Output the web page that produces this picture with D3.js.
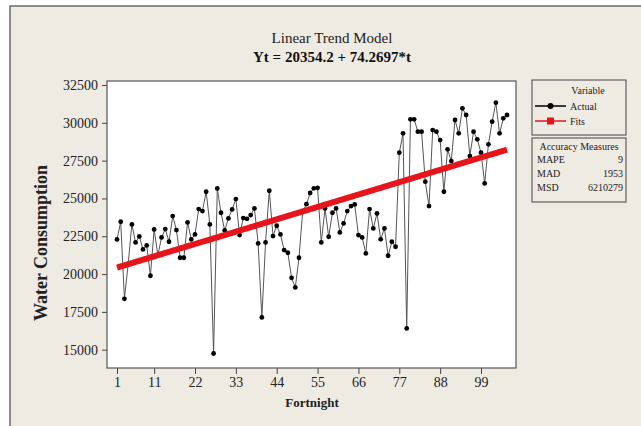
<!DOCTYPE html>
<html>
<head>
<meta charset="utf-8">
<script src="https://cdn.jsdelivr.net/npm/d3@7"></script>
<style>
  body { margin: 0; background: #fff; }
  svg { display: block; font-family: "Liberation Serif", "Times New Roman", serif; }
</style>
</head>
<body>
<script>
// fortnight index and actual water consumption
const actual = [
  22291, 23460, 18366, 20650, 23283, 22093, 22490, 21630, 21894, 19888,
  22953, 21250, 22423, 22975, 22137, 23835, 22909, 21078, 21078, 23416,
  22291, 22622, 24298, 24165, 25444, 23283, 14750, 25665, 24055, 22886,
  23680, 24276, 24959, 22578, 23700, 23650, 23900, 24342, 22026, 17131,
  22093, 25510, 22512, 23195, 22622, 21585, 21409, 19755, 19116, 21078,
  24140, 24620, 25360, 25670, 25700, 22090, 24342, 22467, 24055, 24342,
  22754, 23349, 24165, 24496, 24606, 22578, 22423, 21365, 24298, 23019,
  24011, 22300, 23019, 21211, 22137, 21806, 28024, 29303, 16404, 30229,
  30229, 29413, 29413, 26106, 24496, 29523, 29413, 28862, 25444, 28245,
  27473, 30185, 29303, 30957, 30516, 27804, 29413, 28906, 28024, 25995,
  28575, 30075, 31332, 29303, 30295, 30516
];
const t = actual.map((d, i) => i + 1);

// trend model
const intercept = 20354.2;
const slope = 74.2697;

const xTicks = [1, 11, 22, 33, 44, 55, 66, 77, 88, 99];
const yTicks = [15000, 17500, 20000, 22500, 25000, 27500, 30000, 32500];

const accuracyNames = ["MAPE", "MAD", "MSD"];
const accuracyValues = ["9", "1953", "6210279"];

const width = 641, height = 426;
const plot = {left: 107, top: 81, right: 516, bottom: 368};

const svg = d3.select("body").append("svg")
  .attr("width", width)
  .attr("height", height);

// graph background + frame
svg.append("rect")
  .attr("x", 10).attr("y", 6)
  .attr("width", width).attr("height", height)
  .attr("fill", "#eeebe3")
  .attr("stroke", "#6a6a6a")
  .attr("stroke-width", 1.5);

const x = d3.scaleLinear().domain([1, 99]).range([117, 481]);
const y = d3.scaleLinear().domain([15000, 32500]).range([349.7, 85]);

// plot area
svg.append("rect")
  .attr("x", plot.left).attr("y", plot.top)
  .attr("width", plot.right - plot.left).attr("height", plot.bottom - plot.top)
  .attr("fill", "#fff");

// titles
svg.append("text")
  .attr("x", 332).attr("y", 43)
  .attr("text-anchor", "middle")
  .attr("font-size", 15)
  .attr("fill", "#222")
  .text("Linear Trend Model");

svg.append("text")
  .attr("x", 332).attr("y", 62)
  .attr("text-anchor", "middle")
  .attr("font-size", 15)
  .attr("font-weight", "bold")
  .attr("fill", "#111")
  .text("Yt = 20354.2 + 74.2697*t");

// axes
const xAxis = svg.append("g")
  .attr("transform", `translate(0,${plot.bottom})`)
  .call(d3.axisBottom(x).tickValues(xTicks).tickSize(6).tickSizeOuter(0).tickPadding(3));

const yAxis = svg.append("g")
  .attr("transform", `translate(${plot.left},0)`)
  .call(d3.axisLeft(y).tickValues(yTicks).tickFormat(d3.format("d"))
    .tickSize(5).tickSizeOuter(0).tickPadding(4));

[xAxis, yAxis].forEach(g => {
  g.select(".domain").remove();
  g.selectAll("line").attr("stroke", "#444");
  g.selectAll("text")
    .attr("font-family", "Liberation Serif, serif")
    .attr("font-size", 14)
    .attr("fill", "#222");
});

svg.append("text")
  .attr("x", 312).attr("y", 407)
  .attr("text-anchor", "middle")
  .attr("font-size", 13)
  .attr("font-weight", "bold")
  .attr("fill", "#222")
  .text("Fortnight");

svg.append("text")
  .attr("transform", "translate(47,243) rotate(-90)")
  .attr("text-anchor", "middle")
  .attr("font-size", 18)
  .attr("font-weight", "bold")
  .attr("fill", "#222")
  .text("Water Consumption");

// actual series
const line = d3.line()
  .x((d, i) => x(t[i]))
  .y(d => y(d));

svg.append("path")
  .datum(actual)
  .attr("fill", "none")
  .attr("stroke", "#555")
  .attr("stroke-width", 1)
  .attr("d", line);

svg.append("g")
  .selectAll("circle")
  .data(actual)
  .join("circle")
    .attr("cx", (d, i) => x(t[i]))
    .attr("cy", d => y(d))
    .attr("r", 2.4)
    .attr("fill", "#000");

// fitted trend drawn on top
const fits = t.map(ti => intercept + slope * ti);
svg.append("path")
  .datum(fits)
  .attr("fill", "none")
  .attr("stroke", "#e8141c")
  .attr("stroke-width", 6)
  .attr("d", line);

// plot border
svg.append("rect")
  .attr("x", plot.left).attr("y", plot.top)
  .attr("width", plot.right - plot.left).attr("height", plot.bottom - plot.top)
  .attr("fill", "none")
  .attr("stroke", "#555")
  .attr("stroke-width", 1.2);

// legend
const lg = svg.append("g").attr("font-size", 10).attr("fill", "#222");
lg.append("rect")
  .attr("x", 532).attr("y", 80).attr("width", 94).attr("height", 55)
  .attr("fill", "none").attr("stroke", "#444");
lg.append("text").attr("x", 588).attr("y", 94).attr("text-anchor", "middle").text("Variable");

const series = [
  {name: "Actual", color: "#000", shape: "circle"},
  {name: "Fits", color: "#e8141c", shape: "square"}
];
series.forEach((s, i) => {
  const yy = 106 + i * 15;
  lg.append("line")
    .attr("x1", 535).attr("x2", 566).attr("y1", yy).attr("y2", yy)
    .attr("stroke", s.color).attr("stroke-width", 1.5);
  if (s.shape === "circle") {
    lg.append("circle").attr("cx", 550.5).attr("cy", yy).attr("r", 3).attr("fill", s.color);
  } else {
    lg.append("rect").attr("x", 547).attr("y", yy - 3.5).attr("width", 7).attr("height", 7).attr("fill", s.color);
  }
  lg.append("text").attr("x", 570).attr("y", yy + 3.5).text(s.name);
});

lg.append("rect")
  .attr("x", 532).attr("y", 138).attr("width", 94).attr("height", 64)
  .attr("fill", "none").attr("stroke", "#444");
lg.append("text").attr("x", 579).attr("y", 150).attr("text-anchor", "middle").text("Accuracy Measures");
accuracyNames.forEach((n, i) => {
  const yy = 163 + i * 14;
  lg.append("text").attr("x", 537).attr("y", yy).text(n);
  lg.append("text").attr("x", 623).attr("y", yy).attr("text-anchor", "end").text(accuracyValues[i]);
});
</script>
</body>
</html>
